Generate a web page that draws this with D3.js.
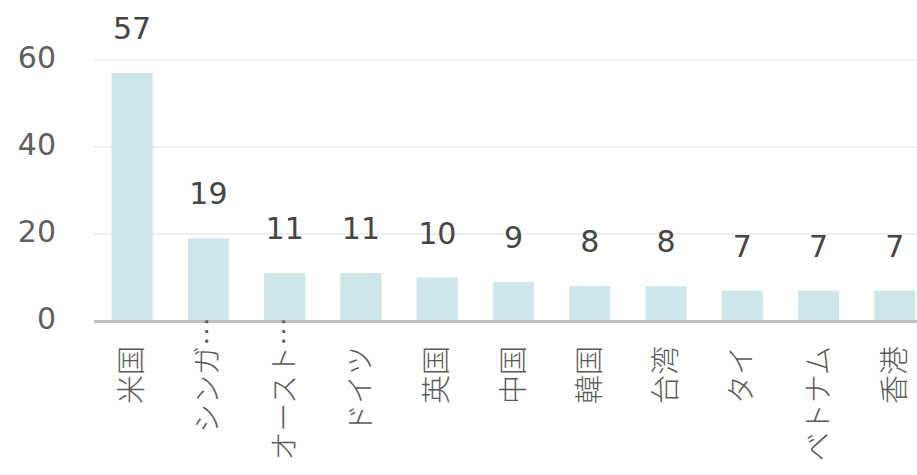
<!DOCTYPE html>
<html><head><meta charset="utf-8">
<script src="https://cdn.jsdelivr.net/npm/d3@7"></script>
<style>html,body{margin:0;padding:0;background:#fff;overflow:hidden}</style>
</head><body>
<svg id="chart" width="917" height="475"></svg>
<script>
const categories = ["米国","シンガポール","オーストラリア","ドイツ","英国","中国","韓国","台湾","タイ","ベトナム","香港"];
const tickLabels = ["米国","シンガ…","オースト…","ドイツ","英国","中国","韓国","台湾","タイ","ベトナム","香港"];
const values = [57,19,11,11,10,9,8,8,7,7,7];
const yTicks = [0,20,40,60];

const svg = d3.select("#chart");
const latin = "'DejaVu Sans', Verdana, sans-serif";
const cjk = "'Noto Sans CJK JP', sans-serif";

const x = d3.scaleBand().domain(categories).range([94, 933]).paddingInner(0.46).paddingOuter(0.23);
const y = d3.scaleLinear().domain([0, 60]).range([321, 60]);

// gridlines
svg.append("g").selectAll("line").data(yTicks.filter(d => d > 0)).join("line")
  .attr("x1", 94).attr("x2", 917)
  .attr("y1", d => y(d)).attr("y2", d => y(d))
  .attr("stroke", "#efefef").attr("stroke-width", 2);

// y tick labels
svg.append("g").selectAll("text").data(yTicks).join("text")
  .attr("x", 56).attr("y", d => y(d) + 8)
  .attr("text-anchor", "end")
  .attr("font-family", latin).attr("font-size", 30)
  .attr("fill", "#5f5f5f")
  .text(d => d);

// bars
svg.append("g").selectAll("rect").data(values).join("rect")
  .attr("x", (d, i) => x(categories[i]))
  .attr("width", x.bandwidth())
  .attr("y", d => y(d))
  .attr("height", d => y(0) - y(d))
  .attr("fill", "#cfe7ea");

// value labels
svg.append("g").selectAll("text").data(values).join("text")
  .attr("x", (d, i) => x(categories[i]) + x.bandwidth() / 2)
  .attr("y", d => y(d) - 34)
  .attr("text-anchor", "middle")
  .attr("font-family", latin).attr("font-size", 30)
  .attr("fill", "#454545")
  .text(d => d);

// axis baseline
svg.append("line")
  .attr("x1", 94).attr("x2", 917)
  .attr("y1", y(0) + 0.5).attr("y2", y(0) + 0.5)
  .attr("stroke", "#bfbfbf").attr("stroke-width", 3);

// x labels (rotated)
const lab = svg.append("g").selectAll("g").data(tickLabels).join("g")
  .attr("transform", (d, i) => `translate(${x(categories[i]) + x.bandwidth() / 2 - 3},346) rotate(-90)`);
lab.append("text")
  .attr("text-anchor", "end")
  .attr("dominant-baseline", "central")
  .attr("font-family", cjk).attr("font-size", 29).attr("font-weight", 300)
  .attr("fill", "#595959")
  .text(d => d.replace("…", ""));
lab.filter(d => d.endsWith("…")).append("text")
  .attr("text-anchor", "start")
  .attr("dominant-baseline", "central")
  .attr("font-family", cjk).attr("font-size", 29).attr("font-weight", 300)
  .attr("fill", "#595959")
  .text("…");
</script>
</body></html>
